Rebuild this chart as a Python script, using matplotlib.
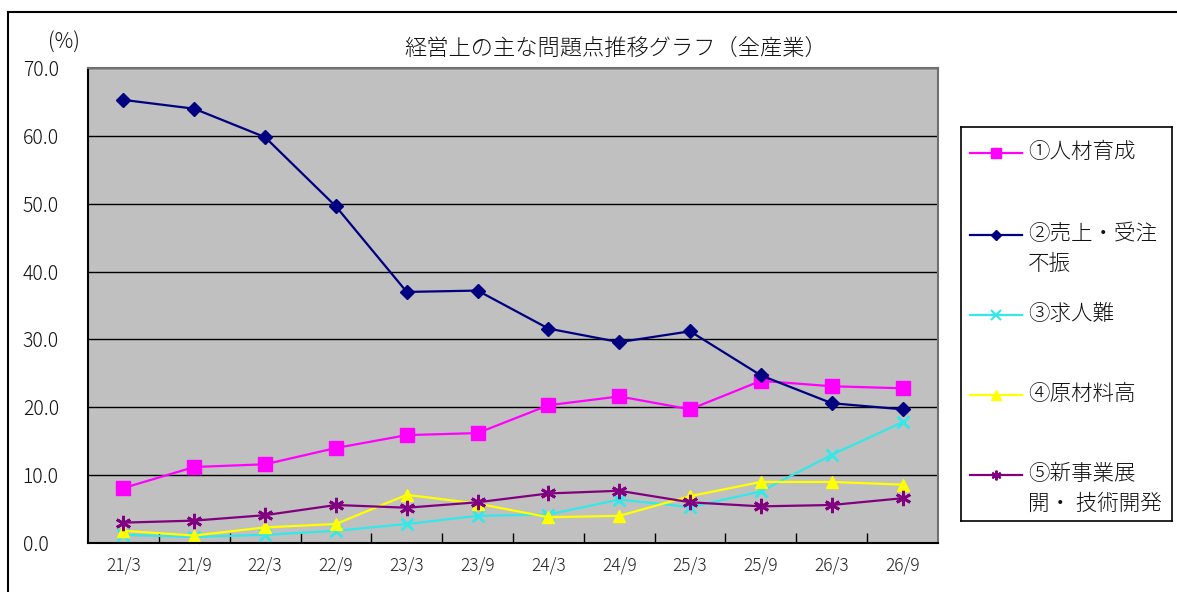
import matplotlib
matplotlib.use('Agg')
import matplotlib.pyplot as plt
from matplotlib.lines import Line2D

plt.rcParams['font.family'] = ['Noto Sans CJK JP', 'DejaVu Sans']
plt.rcParams['font.weight'] = 'light'
plt.rcParams['text.color'] = '#111111'

# 調査時期（年/月）
periods = ['21/3', '21/9', '22/3', '22/9', '23/3', '23/9',
           '24/3', '24/9', '25/3', '25/9', '26/3', '26/9']

# 各問題点の回答割合（%）
jinzai = [8.1, 11.2, 11.6, 14.0, 15.9, 16.2, 20.3, 21.6, 19.7, 23.9, 23.1, 22.8]
uriage = [65.3, 64.0, 59.8, 49.6, 37.0, 37.2, 31.6, 29.6, 31.2, 24.7, 20.6, 19.7]
kyujin = [1.2, 0.9, 1.2, 1.8, 2.8, 4.0, 4.2, 6.4, 5.3, 7.6, 13.0, 17.8]
genzairyo = [1.8, 1.1, 2.3, 2.8, 7.1, 5.8, 3.8, 4.0, 6.9, 9.0, 9.0, 8.6]
shinjigyo = [3.0, 3.3, 4.1, 5.6, 5.2, 6.0, 7.3, 7.7, 6.0, 5.4, 5.6, 6.6]

series_labels = ['①人材育成', '②売上・受注\n不振', '③求人難', '④原材料高', '⑤新事業展\n開・ 技術開発']
series_values = [jinzai, uriage, kyujin, genzairyo, shinjigyo]
colors = ['#FF00FF', '#000080', '#33E8E8', '#FFFF00', '#800080']
markers = ['s', 'D', 'x', '^', (6, 2, 0)]
msizes = [10, 7.5, 8, 9, 11]

W, H = 1177, 592
fig = plt.figure(figsize=(W / 100, H / 100), dpi=100)
fig.patch.set_facecolor('white')

# 外枠（上と左）
fig.add_artist(Line2D([8 / W, 1], [1 - 12 / H, 1 - 12 / H], color='black', lw=1.5))
fig.add_artist(Line2D([8 / W, 8 / W], [0, 1 - 12 / H], color='black', lw=1.5))

ax = fig.add_axes([88 / W, 49 / H, (938 - 88) / W, (543 - 68) / H])
ax.set_facecolor('#C0C0C0')

x = list(range(len(periods)))
for vals, c, m, ms in zip(series_values, colors, markers, msizes):
    ax.plot(x, vals, color=c, lw=1.6, marker=m, markersize=ms,
            markeredgewidth=2 if m in ('x', (6, 2, 0)) else 1,
            markerfacecolor=c, markeredgecolor=c, clip_on=False)

ax.set_xlim(-0.5, len(periods) - 0.5)
ax.set_ylim(0, 70)
ax.set_yticks(range(0, 71, 10))
ax.set_yticklabels([f'{v:.1f}' for v in range(0, 71, 10)], fontsize=14, ha='left')
ax.tick_params(axis='y', length=0, pad=47, labelcolor='#111111')
ax.yaxis.grid(True, color='black', lw=1)
ax.set_axisbelow(True)

ax.set_xticks(x)
ax.set_xticklabels(periods, fontsize=12.5)
ax.set_xticks([i + 0.5 for i in x[:-1]], minor=True)
ax.tick_params(axis='x', which='major', length=0, pad=10, labelcolor='#222222')
ax.tick_params(axis='x', which='minor', direction='in', length=7, width=1, color='black')

for side in ['left', 'bottom']:
    ax.spines[side].set_color('black')
    ax.spines[side].set_linewidth(1.5)
for side in ['top', 'right']:
    ax.spines[side].set_color('#707070')
    ax.spines[side].set_linewidth(1.5)

fig.text(48 / W, 1 - 43 / H, '(%)', fontsize=15, va='center', ha='left')
fig.text(616 / W, 1 - 50 / H, '経営上の主な問題点推移グラフ（全産業）', fontsize=16,
         ha='center', va='center')

# 凡例
lg = fig.add_axes([961 / W, (H - 521) / H, (1172 - 961) / W, (521 - 127) / H])
lg.set_xlim(961, 1172)
lg.set_ylim(521, 127)
lg.set_xticks([])
lg.set_yticks([])
for s in lg.spines.values():
    s.set_linewidth(1.2)
    s.set_color('black')
entry_y = [153, 235, 315, 395, 475]
for label, c, m, ey in zip(series_labels, colors, markers, entry_y):
    lg.plot([970, 1022], [ey, ey], color=c, lw=1.6)
    lg.plot([996], [ey], color=c, marker=m, markersize=7 if m != 'D' else 5,
            markerfacecolor=c, markeredgecolor=c,
            markeredgewidth=1.5 if m in ('x', (6, 2, 0)) else 1)
    lg.text(1028, ey - 12, label, fontsize=15.5, va='top', ha='left', linespacing=1.45)

fig.savefig('out.png', dpi=100)
